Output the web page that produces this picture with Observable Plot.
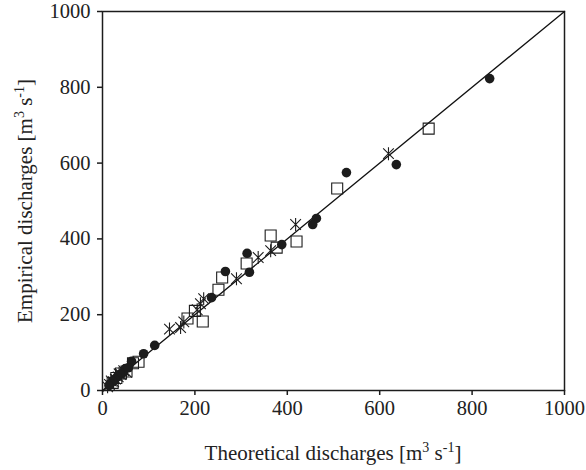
<!DOCTYPE html>
<html><head><meta charset="utf-8">
<script src="https://cdn.jsdelivr.net/npm/d3@7"></script>
<script src="https://cdn.jsdelivr.net/npm/@observablehq/plot@0.6"></script>
<style>body{margin:0;background:#fff} svg{display:block}</style>
</head><body><div id="chart"></div>
<script>
// Series 1: filled circles
const circleTheoretical = [838, 636, 528, 463, 455, 388, 313, 318, 266, 236, 113, 89, 63, 50, 44, 38, 32, 27, 22, 17, 14, 56];
const circleEmpirical   = [823, 596, 575, 454, 438, 385, 362, 312, 314, 245, 119, 97, 77, 58, 47, 42, 36, 30, 24, 18, 13, 60];
// Series 2: open squares
const squareTheoretical = [706, 508, 420, 364, 377, 312, 259, 251, 217, 200, 184, 78, 66, 52, 40, 30, 22];
const squareEmpirical   = [691, 533, 393, 409, 377, 335, 298, 266, 182, 210, 190, 76, 72, 50, 45, 33, 20];
// Series 3: asterisks
const starTheoretical = [619, 418, 364, 337, 290, 219, 212, 205, 176, 169, 145, 52, 46, 40, 34, 28, 24, 19, 15, 11, 36];
const starEmpirical   = [625, 438, 369, 351, 295, 242, 229, 213, 181, 166, 162, 48, 52, 42, 36, 30, 23, 25, 16, 10, 44];
// 1:1 line
const oneToOne = [0, 1000];
const xTicks = [0, 200, 400, 600, 800, 1000];
const yTicks = [0, 200, 400, 600, 800, 1000];

const zipPts = (xs, ys) => xs.map((x, i) => ({x, y: ys[i]}));
const circles = zipPts(circleTheoretical, circleEmpirical);
const squares = zipPts(squareTheoretical, squareEmpirical);
const stars = zipPts(starTheoretical, starEmpirical);

const asteriskSymbol = {
  draw(ctx, size) {
    const r = Math.sqrt(size / Math.PI);
    const a = r * 0.82;
    ctx.moveTo(0, -r); ctx.lineTo(0, r);
    ctx.moveTo(-a, -a); ctx.lineTo(a, a);
    ctx.moveTo(-a, a); ctx.lineTo(a, -a);
  }
};

const ink = "#1c1c1c";
const chart = Plot.plot({
  width: 586, height: 470,
  marginLeft: 102, marginRight: 22, marginTop: 11, marginBottom: 80,
  style: {fontFamily: "'Liberation Serif', 'Times New Roman', serif", fontSize: "20.5px", color: "#222", background: "#fff"},
  x: {domain: [0, 1000], label: null},
  y: {domain: [0, 1000], label: null},
  marks: [
    Plot.axisX({ticks: xTicks, tickSize: 5, tickPadding: 5, tickFormat: d => String(d), stroke: ink, strokeWidth: 1.5, fontSize: 20.5}),
    Plot.axisY({ticks: yTicks, tickSize: 5, tickPadding: 7, tickFormat: d => String(d), stroke: ink, strokeWidth: 1.5, fontSize: 20.5}),
    Plot.frame({stroke: ink, strokeWidth: 1.5}),
    Plot.line(oneToOne, {x: d => d, y: d => d, stroke: "#111", strokeWidth: 1.3}),
    Plot.dot(squares, {x: "x", y: "y", symbol: "square", r: 6.2, fill: "none", stroke: ink, strokeWidth: 1.1}),
    Plot.dot(stars, {x: "x", y: "y", symbol: asteriskSymbol, r: 6.5, fill: "none", stroke: ink, strokeWidth: 1.1}),
    Plot.dot(circles, {x: "x", y: "y", r: 4.8, fill: ink, stroke: "none"})
  ]
});
document.getElementById("chart").appendChild(chart);

const svg = d3.select(chart);
function addLabel(sel, base) {
  sel.append("tspan").text(base);
  sel.append("tspan").attr("font-size", "14px").attr("dy", -8).text("3");
  sel.append("tspan").attr("dy", 8).text(" s");
  sel.append("tspan").attr("font-size", "14px").attr("dy", -8).text("-1");
  sel.append("tspan").attr("dy", 8).text("]");
}
const xl = svg.append("text").attr("x", 333).attr("y", 460).attr("text-anchor", "middle")
  .attr("font-family", "'Liberation Serif', serif").attr("font-size", 21).attr("fill", "#222");
addLabel(xl, "Theoretical discharges [m");
const yl = svg.append("text").attr("transform", "translate(32,201) rotate(-90)").attr("text-anchor", "middle")
  .attr("font-family", "'Liberation Serif', serif").attr("font-size", 21).attr("fill", "#222");
addLabel(yl, "Empirical discharges [m");
</script>
</body></html>
